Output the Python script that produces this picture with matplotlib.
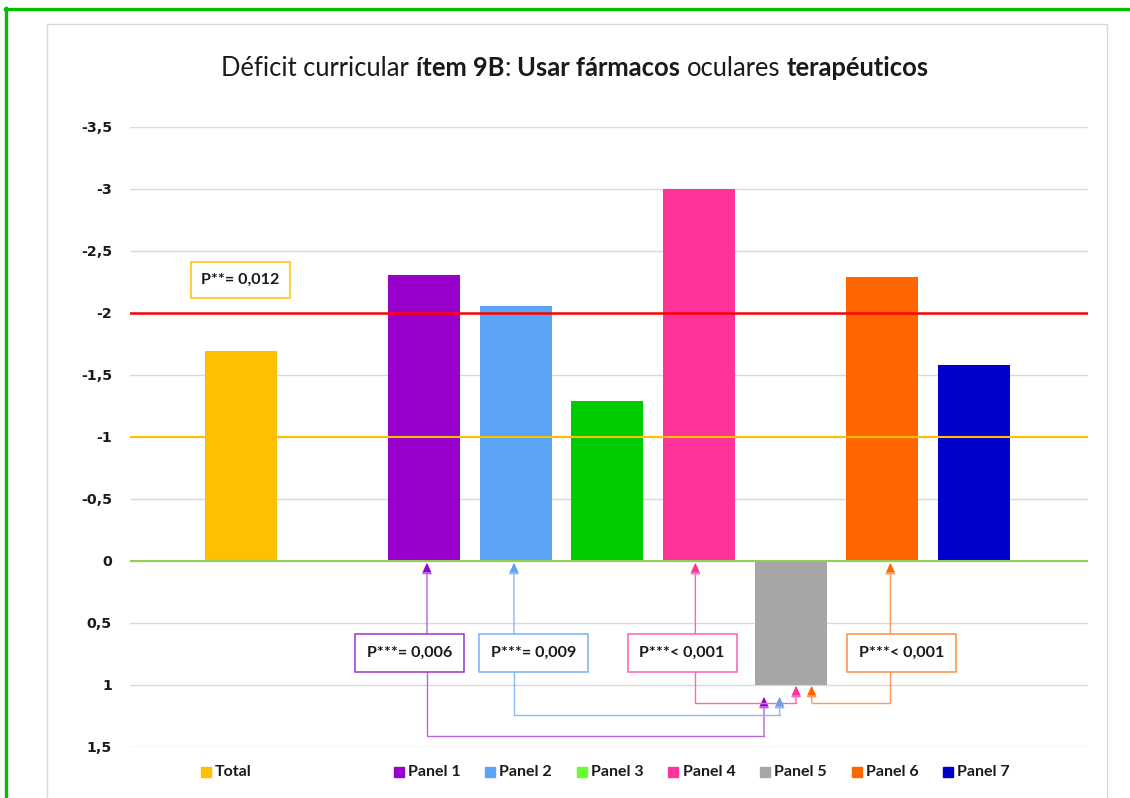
import matplotlib
matplotlib.use('Agg')
import matplotlib.pyplot as plt
from matplotlib.patches import Rectangle
from matplotlib.lines import Line2D
import matplotlib.transforms as mtransforms

# ---------------- data ----------------
series = ['Total', 'Panel 1', 'Panel 2', 'Panel 3', 'Panel 4', 'Panel 5', 'Panel 6', 'Panel 7']
values = [-1.69, -2.31, -2.06, -1.29, -3.0, 1.0, -2.29, -1.58]
slots = [0, 2, 3, 4, 5, 6, 7, 8]
bar_colors = ['#FFC000', '#9900CC', '#5BA3F5', '#00CC00', '#FF3399', '#A6A6A6', '#FF6600', '#0000CC']
legend_colors = ['#FFC000', '#9900CC', '#5BA3F5', '#66FF33', '#FF3399', '#A6A6A6', '#FF6600', '#0000CC']
ref_levels = [-2.0, -1.0, 0.0]
ref_colors = ['#FF0000', '#FFC000', '#92D050']
yticks = [-3.5, -3.0, -2.5, -2.0, -1.5, -1.0, -0.5, 0.0, 0.5, 1.0, 1.5]
ytick_labels = ['-3,5', '-3', '-2,5', '-2', '-1,5', '-1', '-0,5', '0', '0,5', '1', '1,5']
total_p = 'P**= 0,012'
panel_p_labels = ['P***= 0,006', 'P***= 0,009', 'P***< 0,001', 'P***< 0,001']

W, H = 1130, 798
fig = plt.figure(figsize=(W / 100, H / 100), dpi=100)
fig.patch.set_facecolor('white')

# outer green frame and inner gray chart-area frame
fig.add_artist(Line2D([5 / W, 1.0], [1 - 9 / H, 1 - 9 / H], color='#00C000', lw=2.4, transform=fig.transFigure))
fig.add_artist(Line2D([6 / W, 6 / W], [1 - 8 / H, 0], color='#00C000', lw=2.4, transform=fig.transFigure))
fig.add_artist(Rectangle((47 / W, -0.01), (1107 - 47) / W, 1 - 24 / H + 0.01, transform=fig.transFigure,
                         fill=False, edgecolor='#D9D9D9', lw=1))

ax = fig.add_axes([130 / W, 1 - 747 / H, (1088 - 130) / W, 620 / H])
ax.set_xlim(-1.212, 9.247)
ax.set_ylim(1.5, -3.5)
for s in ax.spines.values():
    s.set_visible(False)
ax.set_xticks([])
ax.set_yticks(yticks)
ax.set_yticklabels(ytick_labels, fontfamily='DejaVu Sans', fontweight='bold', fontsize=10.2, color='#1a1a1a')
ax.tick_params(axis='y', length=0, pad=13)
ax.yaxis.grid(True, color='#D9D9D9', lw=1)
ax.set_axisbelow(True)

ax.bar(slots, values, width=0.785, color=bar_colors, zorder=2)

for lvl, c in zip(ref_levels, ref_colors):
    ax.axhline(lvl, color=c, lw=1.8 if c == '#FF0000' else 1.5, zorder=3)

# ---------------- p-value boxes ----------------
def pbox(x0, x1, y0, y1, text, ec):
    ax.add_patch(Rectangle((x0, y0), x1 - x0, y1 - y0, fill=True, facecolor='white', edgecolor=ec, lw=1.1, zorder=5))
    ax.text((x0 + x1) / 2, (y0 + y1) / 2, text, ha='center', va='center', fontfamily='Lato',
            fontweight='bold', fontsize=11.6, color='#1a1a1a', zorder=6)

def arrow(x, y_from, y_to, c):
    ax.annotate('', xy=(x, y_to), xytext=(x, y_from),
                arrowprops=dict(arrowstyle='-|>,head_width=0.3,head_length=0.65', color=c, lw=1,
                                shrinkA=0, shrinkB=0), zorder=4)

pbox(-0.546, 0.535, -2.411, -2.121, total_p, '#FFC000')

box_x = [(1.245, 2.434), (2.60, 3.79), (4.22, 5.41), (6.62, 7.81)]
stem_x = [2.03, 2.98, 4.96, 7.09]
route_y = [1.411, 1.242, 1.145, 1.145]
end_x = [5.71, 5.88, 6.06, 6.23]
end_tip = [1.097, 1.097, 1.008, 1.008]
box_ec = ['#9933CC', '#7AB0F5', '#FF5FAF', '#FF8C40']
line_c = ['#B366E0', '#8DB8F5', '#FF66B3', '#FF9955']
head_c = ['#9900CC', '#5BA3F5', '#FF3399', '#FF6600']
by0, by1 = 0.589, 0.895
for i in range(4):
    # upward arrow to the bar
    arrow(stem_x[i], by0, 0.016, line_c[i])
    ax.annotate('', xy=(stem_x[i], 0.016), xytext=(stem_x[i], 0.1),
                arrowprops=dict(arrowstyle='-|>,head_width=0.3,head_length=0.65', color=head_c[i], lw=0,
                                shrinkA=0, shrinkB=0), zorder=4)
    # route to panel 5
    ax.plot([stem_x[i], stem_x[i], end_x[i]], [by1, route_y[i], route_y[i]], color=line_c[i], lw=1, zorder=4,
            solid_joinstyle='miter')
    arrow(end_x[i], route_y[i], end_tip[i], line_c[i])
    ax.annotate('', xy=(end_x[i], end_tip[i]), xytext=(end_x[i], end_tip[i] + 0.08),
                arrowprops=dict(arrowstyle='-|>,head_width=0.3,head_length=0.65', color=head_c[i], lw=0,
                                shrinkA=0, shrinkB=0), zorder=4)
    pbox(box_x[i][0], box_x[i][1], by0, by1, panel_p_labels[i], box_ec[i])

# ---------------- legend ----------------
trans = mtransforms.blended_transform_factory(ax.transData, ax.transAxes)
leg_y = -(772 - 747) / 620
for s, c, xs in zip(series, legend_colors, slots):
    off = -0.383 if s == 'Total' else -0.28
    ax.plot([xs + off], [leg_y], marker='s', markersize=6.5, color=c, transform=trans, clip_on=False,
            linestyle='none')
    ax.text(xs + off + 0.1, leg_y, s, transform=trans, ha='left', va='center', fontfamily='Lato',
            fontweight='bold', fontsize=11.5, color='#1a1a1a', clip_on=False)

# ---------------- title (mixed weights) ----------------
pieces = [('Déficit curricular', 'normal'), ('ítem 9B', 'bold'), (':', 'normal', True),
          ('Usar fármacos', 'bold'), ('oculares', 'normal'), ('terapéuticos', 'bold')]
renderer = fig.canvas.get_renderer()
fs = 18
def measure(fsz):
    ws = []
    for p in pieces:
        t = fig.text(0, 0, p[0], fontfamily='Lato', fontweight=p[1], fontsize=fsz)
        ws.append(t.get_window_extent(renderer).width)
        t.remove()
    a = fig.text(0, 0, 'a a', fontfamily='Lato', fontsize=fsz)
    b = fig.text(0, 0, 'aa', fontfamily='Lato', fontsize=fsz)
    sp = a.get_window_extent(renderer).width - b.get_window_extent(renderer).width
    a.remove(); b.remove()
    return ws, sp
ws, sp = measure(fs)
def total_w(ws, sp):
    tot = 0
    for i, p in enumerate(pieces):
        if i > 0 and not (len(p) > 2 and p[2]):
            tot += sp
        tot += ws[i]
    return tot
fs = fs * 708 / total_w(ws, sp)
ws, sp = measure(fs)
x = 575 - total_w(ws, sp) / 2
for i, p in enumerate(pieces):
    if i > 0 and not (len(p) > 2 and p[2]):
        x += sp
    fig.text(x / W, 1 - 76 / H, p[0], fontfamily='Lato', fontweight=p[1], fontsize=fs, color='#1a1a1a',
             va='baseline', ha='left')
    x += ws[i]

fig.savefig('out.png', dpi=100, facecolor='white')
